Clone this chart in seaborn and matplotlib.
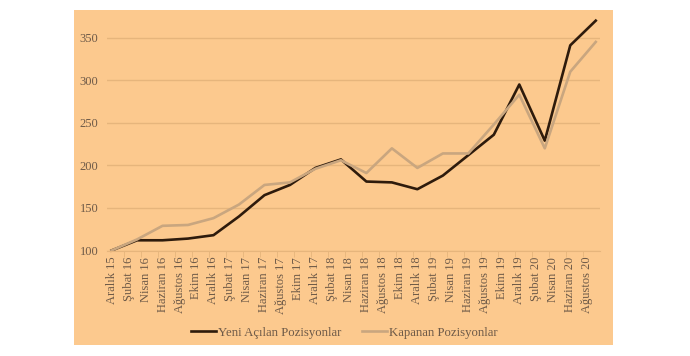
import numpy as np
import pandas as pd
import matplotlib
matplotlib.use("Agg")
import matplotlib.pyplot as plt
import seaborn as sns
from matplotlib.patches import Rectangle

# monthly category axis (Aralık 15 - Eylül 20), labels shown every other month
ay_adlari = ["Ocak", "Şubat", "Mart", "Nisan", "Mayıs", "Haziran",
             "Temmuz", "Ağustos", "Eylül", "Ekim", "Kasım", "Aralık"]
aylar = ["Aralık 15"] + [f"{a} {y}" for y in range(16, 21) for a in ay_adlari][:57]

# quarterly data points
ceyrekler = ["Aralık 15", "Mart 16", "Haziran 16", "Eylül 16", "Aralık 16",
             "Mart 17", "Haziran 17", "Eylül 17", "Aralık 17", "Mart 18",
             "Haziran 18", "Eylül 18", "Aralık 18", "Mart 19", "Haziran 19",
             "Eylül 19", "Aralık 19", "Mart 20", "Haziran 20", "Eylül 20"]
yeni = [100, 112, 112, 114, 118, 140, 165, 177, 197, 207,
        181, 180, 172, 188, 212, 236, 295, 229, 341, 370]
kapanan = [100, 113, 129, 130, 138, 154, 177, 180, 196, 206,
           191, 220, 197, 214, 214, 248, 283, 220, 310, 345]
seriler = ["Yeni Açılan Pozisyonlar", "Kapanan Pozisyonlar"]

df = pd.DataFrame({
    "donem": ceyrekler * 2,
    "deger": yeni + kapanan,
    "seri": [seriler[0]] * len(yeni) + [seriler[1]] * len(kapanan),
})
df["x"] = df["donem"].map(aylar.index)

bg = "#FCC98E"
grid_c = "#E6B57C"
text_c = "#6E5A48"

plt.rcParams["font.family"] = ["Liberation Serif", "DejaVu Serif"]

fig = plt.figure(figsize=(6.9, 3.56), dpi=100)
fig.patch.set_facecolor("white")
bg_rect = Rectangle((74 / 690, 1 - 345 / 356), (613 - 74) / 690, (345 - 10) / 356,
                    transform=fig.transFigure, facecolor=bg, edgecolor="none", zorder=-10)
fig.patches.append(bg_rect)

ax = fig.add_axes([107.3 / 690, 1 - 250.5 / 356, (600 - 107.3) / 690, (250.5 - 16.4) / 356])
ax.set_facecolor("none")
ax.set_zorder(1)

sns.lineplot(data=df, x="x", y="deger", hue="seri", hue_order=seriler,
             palette={seriler[0]: "#2E1B0C", seriler[1]: "#C9A67F"},
             linewidth=1.9, ax=ax, clip_on=False)

ax.set_xlim(-0.5, len(aylar) - 0.5)
ax.set_ylim(100, 375)
ax.set_yticks([100, 150, 200, 250, 300, 350])
ax.set_xticks(range(0, len(aylar) - 1, 2))
ax.set_xticklabels(aylar[:-1:2], rotation=90)
ax.set_xticks(np.arange(1.5, len(aylar) - 2, 2), minor=True)
ax.grid(axis="y", color=grid_c, linewidth=1.0)
ax.set_axisbelow(True)
for s in ["top", "right", "left"]:
    ax.spines[s].set_visible(False)
ax.spines["bottom"].set_color(grid_c)
ax.tick_params(axis="x", which="major", length=0, pad=4.5, labelsize=9, labelcolor=text_c)
ax.tick_params(axis="x", which="minor", length=4, color=grid_c, direction="out")
ax.tick_params(axis="y", length=0, pad=6.5, labelsize=9, labelcolor=text_c)
ax.set_xlabel("")
ax.set_ylabel("")

handles, labels = ax.get_legend_handles_labels()
ax.get_legend().remove()
fig.legend(handles, labels, loc="center", bbox_to_anchor=(0.499, 0.065), ncol=2,
           frameon=False, fontsize=9.2, handlelength=2.0, handletextpad=0.15,
           columnspacing=1.6, labelcolor=text_c)

fig.savefig("out.png", dpi=100)
